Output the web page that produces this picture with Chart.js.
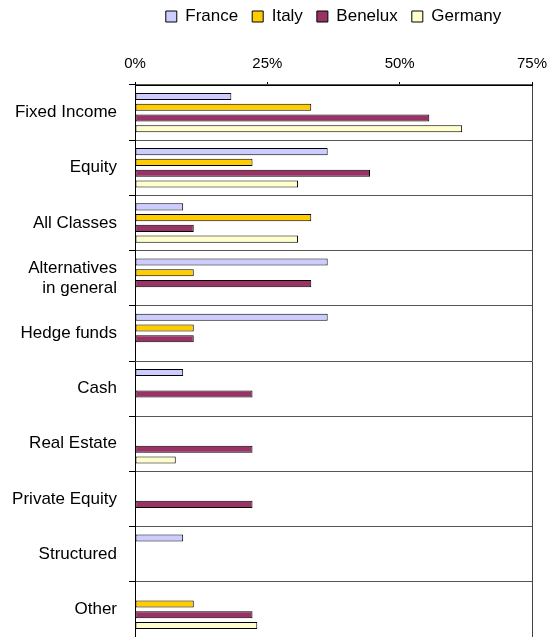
<!DOCTYPE html>
<html>
<head>
<meta charset="utf-8">
<script src="https://cdn.jsdelivr.net/npm/chart.js@4.4.1/dist/chart.umd.min.js"></script>
<style>
    html, body { margin: 0; padding: 0; background: #fff; }
    #wrap { width: 552px; height: 637px; }
</style>
</head>
<body>
<div id="wrap"><canvas id="assetChart"></canvas></div>
<script>
// categories and values (% of respondents)
const categories = ['Fixed Income', 'Equity', 'All Classes', ['Alternatives', 'in general'], 'Hedge funds',
    'Cash', 'Real Estate', 'Private Equity', 'Structured', 'Other'];
const franceValues = [18.2, 36.4, 9.1, 36.4, 36.4, 9.1, null, null, 9.1, null];
const italyValues = [33.3, 22.2, 33.3, 11.1, 11.1, null, null, null, null, 11.1];
const beneluxValues = [55.6, 44.4, 11.1, 33.3, 11.1, 22.2, 22.2, 22.2, null, 22.2];
const germanyValues = [61.8, 30.8, 30.8, null, null, null, 7.7, null, null, 23.1];
const xTicks = [0, 25, 50, 75];

document.addEventListener('DOMContentLoaded', function() {
    Chart.defaults.font.family = '"Liberation Sans", Arial, sans-serif';
    Chart.defaults.color = '#000';

    function series(label, data, color) {
        return {
            label: label,
            data: data,
            backgroundColor: color,
            borderColor: '#000',
            borderWidth: 1,
            borderSkipped: false,
            barPercentage: 0.66,
            categoryPercentage: 0.78
        };
    }

    const ctx = document.getElementById('assetChart');
    new Chart(ctx, {
        type: 'bar',
        data: {
            labels: categories,
            datasets: [
                series('France', franceValues, '#CCCCFF'),
                series('Italy', italyValues, '#FFCC00'),
                series('Benelux', beneluxValues, '#993366'),
                series('Germany', germanyValues, '#FFFFCC')
            ]
        },
        options: {
            indexAxis: 'y',
            responsive: true,
            maintainAspectRatio: false,
            animation: false,
            layout: { padding: { top: -6, right: 20, bottom: 0, left: 0 } },
            plugins: {
                legend: {
                    position: 'top',
                    fullSize: false,
                    labels: {
                        boxWidth: 11,
                        boxHeight: 11,
                        padding: 14,
                        font: { size: 17 }
                    }
                },
                tooltip: { enabled: false }
            },
            scales: {
                x: {
                    position: 'top',
                    min: 0,
                    max: 75,
                    afterBuildTicks: function(scale) {
                        scale.ticks = xTicks.map(function(v) { return { value: v }; });
                    },
                    afterFit: function(scale) {
                        scale.height = 50;
                        scale.paddingLeft = 0;
                        scale.paddingRight = 0;
                    },
                    ticks: {
                        padding: 9,
                        font: { size: 15 },
                        callback: function(value) { return value + '%'; }
                    },
                    grid: {
                        color: function(c) {
                            return c.tick && c.tick.value === 75 ? '#444' : 'rgba(0,0,0,0)';
                        },
                        tickColor: '#000',
                        tickLength: 3
                    },
                    border: { color: '#000' }
                },
                y: {
                    afterFit: function(scale) {
                        scale.width = 135;
                        scale.paddingTop = 0;
                        scale.paddingBottom = 0;
                    },
                    ticks: {
                        padding: 12,
                        font: { size: 17 }
                    },
                    grid: {
                        color: '#555',
                        tickColor: '#000',
                        tickLength: 6
                    },
                    border: { color: '#000' }
                }
            }
        }
    });
});
</script>
</body>
</html>
